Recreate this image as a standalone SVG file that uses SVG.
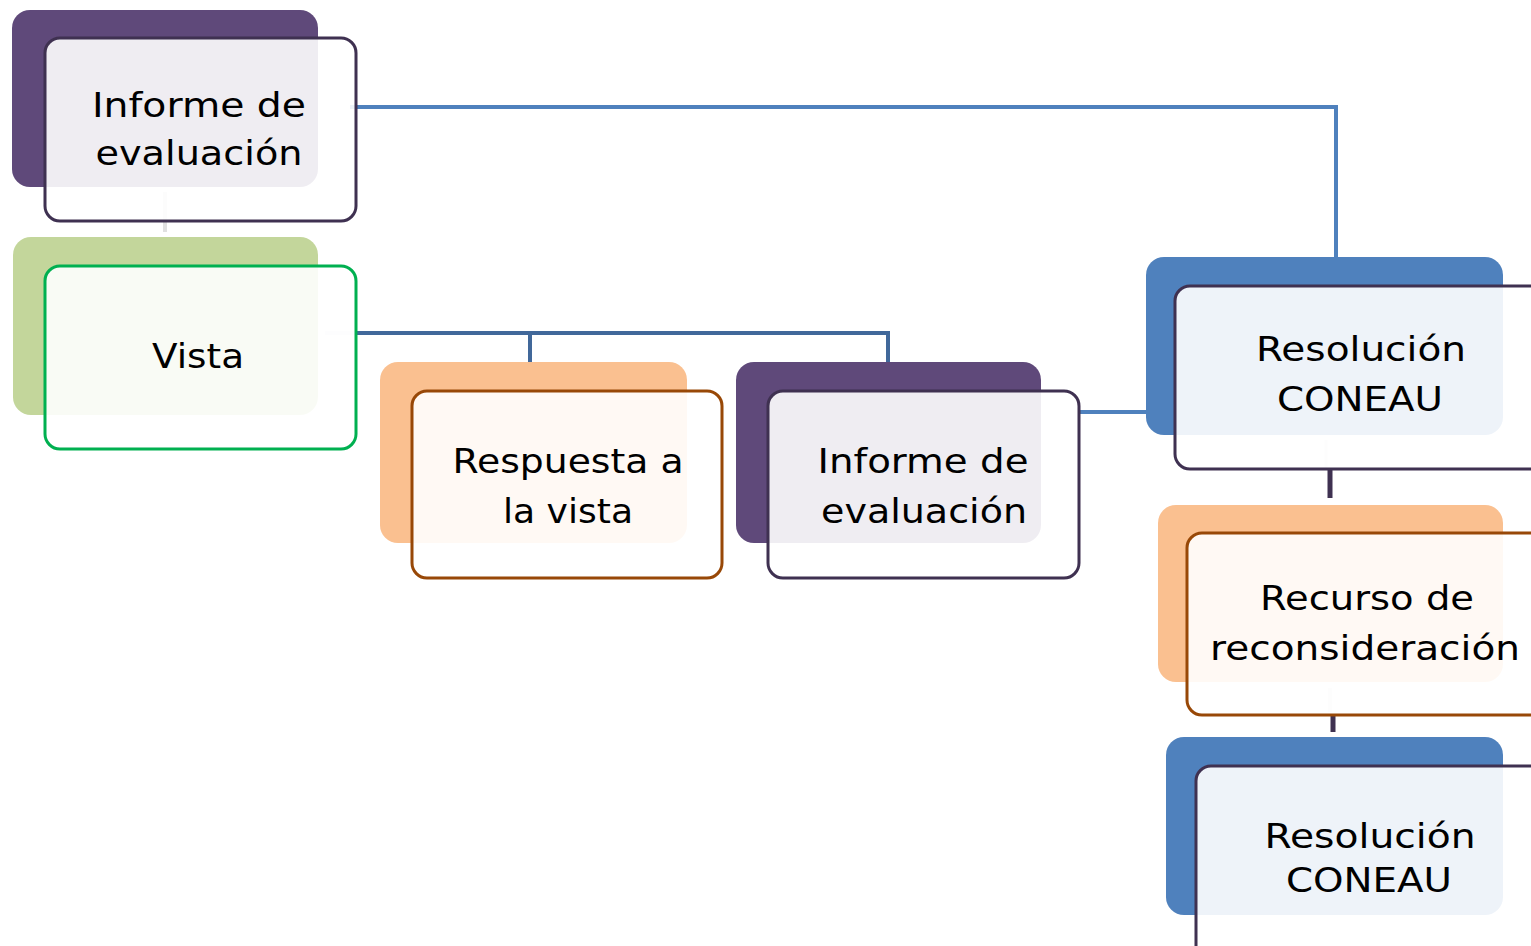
<svg xmlns="http://www.w3.org/2000/svg" width="1531" height="946" viewBox="0 0 1531 946">
<style>
.bk{stroke:none}
.fr{fill:#ffffff;fill-opacity:0.9;stroke-width:3}
.t{font-family:"DejaVu Sans","Liberation Sans",sans-serif;font-size:34px;fill:#000;text-anchor:middle}
.purple{fill:#5F497A}
.green{fill:#C3D69B}
.orange{fill:#FAC090}
.blue{fill:#4F81BD}
.sp{stroke:#3F3151}
.sg{stroke:#00B050}
.so{stroke:#984807}
.c{fill:none;stroke-width:4}
</style>
<rect width="1531" height="946" fill="#ffffff"/>
<g id="connectors">
<polyline class="c" points="350,107 1336,107 1336,262" stroke="#4F81BD"/>
<line x1="165" y1="192" x2="165" y2="232" stroke="#E0E0E0" stroke-width="4"/>
<line x1="325" y1="333" x2="357" y2="333" stroke="#E8ECF2" stroke-width="4"/>
<polyline class="c" points="357,333 888,333 888,362" stroke="#41689A"/>
<line x1="530" y1="333" x2="530" y2="362" stroke="#41689A" stroke-width="4"/>
<line x1="1080" y1="412" x2="1148" y2="412" stroke="#4F81BD" stroke-width="4"/>
<line x1="1326" y1="440" x2="1326" y2="468" stroke="#E4E4E8" stroke-width="3"/>
<line x1="1330" y1="470" x2="1330" y2="498" stroke="#3F3151" stroke-width="5"/>
<line x1="1330" y1="688" x2="1330" y2="712" stroke="#E4E4E8" stroke-width="4"/>
<line x1="1333" y1="715" x2="1333" y2="732" stroke="#3F3151" stroke-width="5"/>
</g>
<g id="n1">
<rect class="bk purple" x="12" y="10" width="306" height="177" rx="18"/>
<rect class="fr sp" x="45" y="38" width="311" height="183" rx="15"/>
<text class="t" x="199" y="117" textLength="214" lengthAdjust="spacingAndGlyphs">Informe de</text>
<text class="t" x="199" y="165" textLength="207" lengthAdjust="spacingAndGlyphs">evaluación</text>
</g>
<g id="n2">
<rect class="bk green" x="13" y="237" width="305" height="178" rx="18"/>
<rect class="fr sg" x="45" y="266" width="311" height="183" rx="15"/>
<text class="t" x="198" y="368" textLength="92" lengthAdjust="spacingAndGlyphs">Vista</text>
</g>
<g id="n3">
<rect class="bk orange" x="380" y="362" width="307" height="181" rx="18"/>
<rect class="fr so" x="412" y="391" width="310" height="187" rx="15"/>
<text class="t" x="568" y="473" textLength="231" lengthAdjust="spacingAndGlyphs">Respuesta a</text>
<text class="t" x="568" y="523" textLength="130" lengthAdjust="spacingAndGlyphs">la vista</text>
</g>
<g id="n4">
<rect class="bk purple" x="736" y="362" width="305" height="181" rx="18"/>
<rect class="fr sp" x="768" y="391" width="311" height="187" rx="15"/>
<text class="t" x="923" y="473" textLength="211" lengthAdjust="spacingAndGlyphs">Informe de</text>
<text class="t" x="924" y="523" textLength="206" lengthAdjust="spacingAndGlyphs">evaluación</text>
</g>
<g id="n5">
<rect class="bk blue" x="1146" y="257" width="357" height="178" rx="18"/>
<rect class="fr sp" x="1175" y="286" width="370" height="183" rx="15"/>
<text class="t" x="1361" y="361" textLength="210" lengthAdjust="spacingAndGlyphs">Resolución</text>
<text class="t" x="1360" y="411" textLength="166" lengthAdjust="spacingAndGlyphs">CONEAU</text>
</g>
<g id="n6">
<rect class="bk orange" x="1158" y="505" width="345" height="177" rx="18"/>
<rect class="fr so" x="1187" y="533" width="360" height="182" rx="15"/>
<text class="t" x="1367" y="610" textLength="214" lengthAdjust="spacingAndGlyphs">Recurso de</text>
<text class="t" x="1365" y="660" textLength="310" lengthAdjust="spacingAndGlyphs">reconsideración</text>
</g>
<g id="n7">
<rect class="bk blue" x="1166" y="737" width="337" height="178" rx="18"/>
<rect class="fr sp" x="1196" y="766" width="350" height="200" rx="15"/>
<text class="t" x="1370" y="848" textLength="211" lengthAdjust="spacingAndGlyphs">Resolución</text>
<text class="t" x="1369" y="892" textLength="166" lengthAdjust="spacingAndGlyphs">CONEAU</text>
</g>
</svg>
